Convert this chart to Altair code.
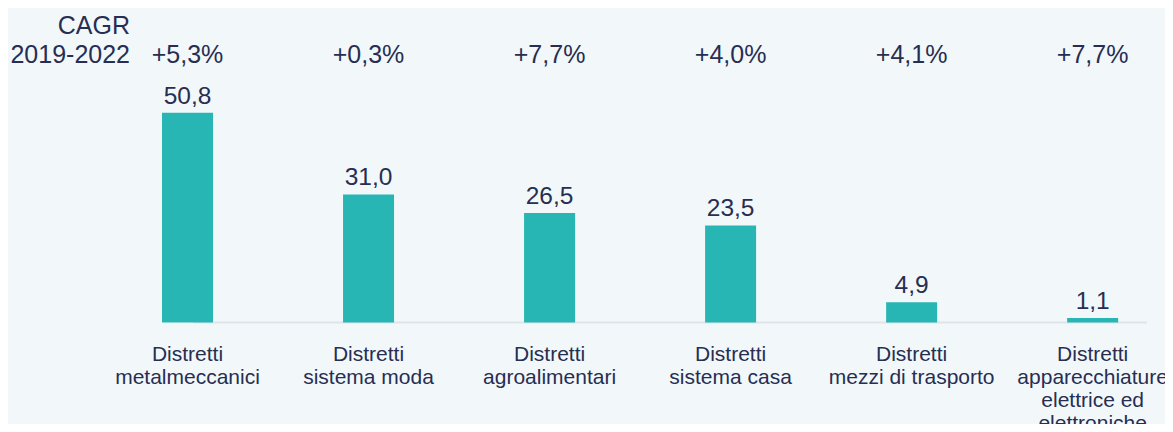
import altair as alt
import pandas as pd

categories = [
    "Distretti\nmetalmeccanici",
    "Distretti\nsistema moda",
    "Distretti\nagroalimentari",
    "Distretti\nsistema casa",
    "Distretti\nmezzi di trasporto",
    "Distretti\napparecchiature\nelettrice ed\nelettroniche",
]
values = [50.8, 31.0, 26.5, 23.5, 4.9, 1.1]
cagr = ["+5,3%", "+0,3%", "+7,7%", "+4,0%", "+4,1%", "+7,7%"]
cagr_title = ["CAGR", "2019-2022"]

df = pd.DataFrame({
    "idx": list(range(len(categories))),
    "cat": categories,
    "value": values,
    "zero": [0.0] * len(values),
    "vlabel": [f"{v:.1f}".replace(".", ",") for v in values],
    "cagr": cagr,
})

TEXT = "#272e52"
BAR = "#27b6b3"
FONT = "Liberation Sans"

W, H = 1157, 416
xs = alt.Scale(domain=[-0.964, 5.372], nice=False, zero=False)
ys = alt.Scale(domain=[-24.58, 76.15], nice=False, zero=False)
x = alt.X("idx:Q", scale=xs, axis=None)
y = alt.Y("value:Q", scale=ys, axis=None)

base = alt.Chart(df)

axis_line = base.transform_filter("datum.idx == 0").mark_rule(color="#dfe4ea", strokeWidth=2).encode(
    y=alt.Y("zero:Q", scale=ys, axis=None),
    x=alt.value(185), x2=alt.value(1139),
)

bars = base.mark_bar(color=BAR, width=51).encode(x=x, y=y, y2="zero:Q")

vlabels = base.mark_text(font=FONT, fontSize=24.5, color=TEXT, baseline="alphabetic", dy=-9).encode(
    x=x, y=y, text="vlabel:N"
)

clabels = base.mark_text(font=FONT, fontSize=25, color=TEXT, baseline="alphabetic").encode(
    x=x, y=alt.value(55), text="cagr:N"
)

catlabels = base.mark_text(font=FONT, fontSize=21, color=TEXT, baseline="top", lineBreak="\n", lineHeight=23).encode(
    x=x, y=alt.value(336), text="cat:N"
)

title = base.transform_filter("datum.idx == 0").mark_text(
    font=FONT, fontSize=25, color=TEXT, baseline="top", align="right", lineHeight=29,
    text=cagr_title,
).encode(x=alt.value(122), y=alt.value(6))

chart = alt.layer(axis_line, bars, vlabels, clabels, catlabels, title).properties(
    width=W, height=H,
    autosize=alt.AutoSizeParams(type="none"),
    padding=0,
    background="#f2f8fa",
).configure_view(stroke=None)

chart.save("out.html", embed_options={"renderer": "svg", "actions": False})
